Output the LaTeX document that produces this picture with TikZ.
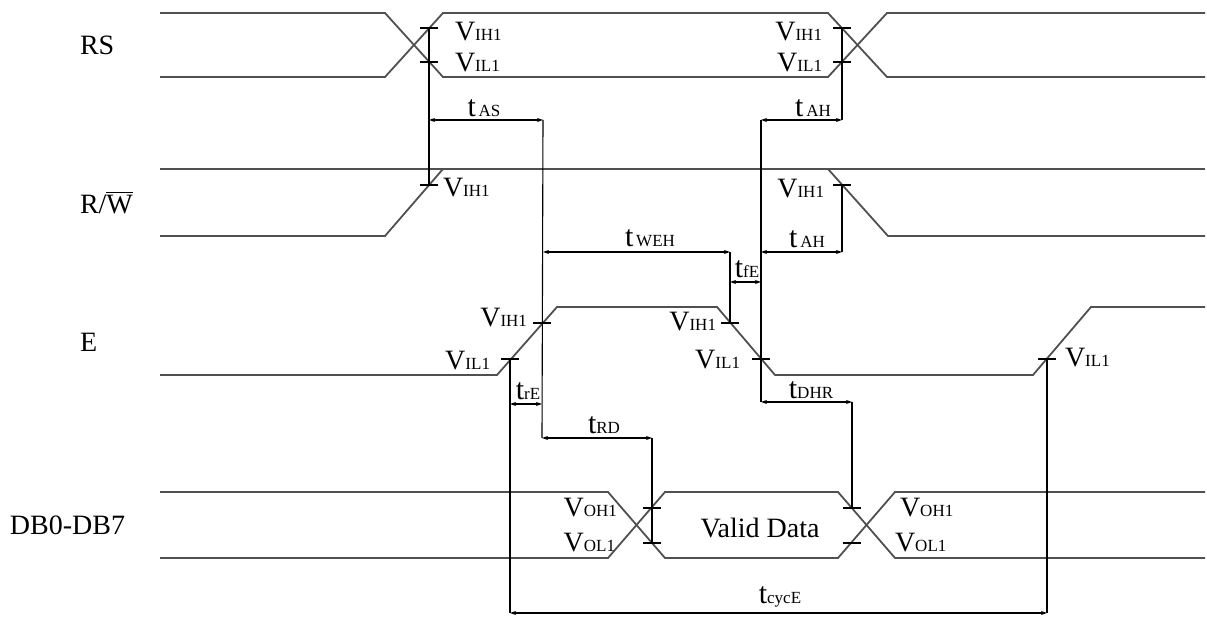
\documentclass[tikz,border=0pt]{standalone}
\usepackage{fontspec}
\setmainfont{Liberation Serif}
\usetikzlibrary{arrows.meta}
\definecolor{sigcol}{RGB}{80,80,80}
\newcommand\vlab[2]{{\fontsize{14}{14}\selectfont V}{\fontsize{8.5}{9}\selectfont #1#2}}
\newcommand\tlab[1]{{\fontsize{15}{15}\selectfont t}{\fontsize{8.5}{9}\selectfont #1}}
\begin{document}
\begin{tikzpicture}[x=0.5pt,y=-0.5pt,font=\fontsize{14}{16}\selectfont,
  sig/.style={draw=sigcol,line width=0.9pt},
  dimline/.style={draw=black,line width=0.55pt},
  dimarr/.style={dimline,{Stealth[length=3pt,width=2pt]}-{Stealth[length=3pt,width=2pt]}},
  tickmark/.style={draw=black,line width=0.55pt},
  lbl/.style={inner sep=0pt,outer sep=0pt},
  tl/.style={lbl,anchor=south}]
\useasboundingbox (0,0) rectangle (1207,619);

% ---------- signal names
\node[lbl,anchor=west] (nRS) at (80,45) {RS};
\node[lbl,anchor=west] (nRW) at (80,203) {R/$\overline{\mbox{W}}$};
\node[lbl,anchor=west] (nE) at (80,342) {E};
\node[lbl,anchor=west] (nDB) at (10,525) {DB0-DB7};

% ---------- waveforms
% RS
\draw[sig] (160,13) -- (385,13) -- (443,77) -- (828,77) -- (887,13) -- (1205,13);
\draw[sig] (160,77) -- (385,77) -- (443,13) -- (828,13) -- (887,77) -- (1205,77);
% R/W
\draw[sig] (160,169) -- (1205,169);
\draw[sig] (160,236) -- (385,236) -- (443,169);
\draw[sig] (828,169) -- (888,236) -- (1205,236);
% E
\draw[sig] (160,375) -- (497,375) -- (557,307) -- (717,307) -- (775,375) -- (1033,375) -- (1091,307) -- (1205,307);
% DB
\draw[sig] (160,492) -- (608,492) -- (665,558) -- (838,558) -- (895,492) -- (1205,492);
\draw[sig] (160,558) -- (608,558) -- (665,492) -- (838,492) -- (895,558) -- (1205,558);
\node[lbl] (valid) at (760,528) {Valid Data};

% ---------- threshold points
\coordinate (rsH1) at (429,28);  \coordinate (rsL1) at (429,62);
\coordinate (rsH2) at (842,28);  \coordinate (rsL2) at (842,62);
\coordinate (rwH1) at (429,185); \coordinate (rwH2) at (842,185);
\coordinate (eL1) at (510,359);  \coordinate (eH1) at (542,323);
\coordinate (eH2) at (730,323);  \coordinate (eL2) at (761,359);
\coordinate (eL3) at (1047,359);
\coordinate (dH1) at (652,508);  \coordinate (dL1) at (652,543);
\coordinate (dH2) at (852,508);  \coordinate (dL2) at (852,543);
\foreach \p in {rsH1,rsL1,rsH2,rsL2,rwH1,rwH2,eL1,eH1,eH2,eL2,eL3,dH1,dL1,dH2,dL2}
  \draw[tickmark] ([xshift=-4.5pt]\p) -- ([xshift=4.5pt]\p);

% ---------- dimension end points
\coordinate (asA) at (429,120);  \coordinate (asB) at (543,120);
\coordinate (ahA) at (761,120);  \coordinate (ahB) at (842,120);
\coordinate (ah2A) at (761,252); \coordinate (ah2B) at (842,252);
\coordinate (wehA) at (543,252); \coordinate (wehB) at (730,252);
\coordinate (feA) at (730,282);  \coordinate (feB) at (761,282);
\coordinate (reA) at (510,404);  \coordinate (reB) at (542,404);
\coordinate (rdA) at (542,438);  \coordinate (rdB) at (652,438);
\coordinate (dhA) at (761,402);  \coordinate (dhB) at (852,402);
\coordinate (cyA) at (510,613);  \coordinate (cyB) at (1047,613);

% ---------- extension lines
\draw[dimline] (rsH1) -- (rwH1);
\draw[dimline] (rsH2) -- (ahB);
\draw[dimline] (rwH2) -- (ah2B);
\draw[dimline] (asB) -- (rdA);
\draw[dimline] (ahA) -- (dhA);
\draw[dimline] (wehB) -- (eH2);
\draw[dimline] (rdB) -- (dL1);
\draw[dimline] (dhB) -- (dH2);
\draw[dimline] (eL1) -- (cyA);
\draw[dimline] (eL3) -- (cyB);

% ---------- dimension arrows
\draw[dimarr] (asA) -- (asB);
\draw[dimarr] (ahA) -- (ahB);
\draw[dimarr] (ah2A) -- (ah2B);
\draw[dimarr] (wehA) -- (wehB);
\draw[dimarr] (feA) -- (feB);
\draw[dimarr] (reA) -- (reB);
\draw[dimarr] (rdA) -- (rdB);
\draw[dimarr] (dhA) -- (dhB);
\draw[dimarr] (cyA) -- (cyB);

% ---------- timing labels
\node[tl] (tAS) at (484,117) {\tlab{\,AS}};
\node[tl] (tAH) at (813,117) {\tlab{\,AH}};
\node[tl] (tAH2) at (807,248) {\tlab{\,AH}};
\node[tl] (tWEH) at (650,247) {\tlab{\,WEH}};
\node[tl] (tfE) at (747,278) {\tlab{fE}};
\node[tl] (trE) at (528,400) {\tlab{rE}};
\node[tl] (tRD) at (604,434) {\tlab{RD}};
\node[tl] (tDHR) at (811,399) {\tlab{DHR}};
\node[tl] (tcyc) at (780,607) {\tlab{cycE}};

% ---------- level labels
\node[lbl,anchor=west] (lRSH1) at (455,32) {\vlab{IH}{1}};
\node[lbl,anchor=west] (lRSL1) at (455,63) {\vlab{IL}{1}};
\node[lbl,anchor=east] (lRSH2) at (822,32) {\vlab{IH}{1}};
\node[lbl,anchor=east] (lRSL2) at (822,63) {\vlab{IL}{1}};
\node[lbl,anchor=west] (lRWH1) at (443,188) {\vlab{IH}{1}};
\node[lbl,anchor=east] (lRWH2) at (824,189) {\vlab{IH}{1}};
\node[lbl,anchor=east] (lEH1) at (527,318) {\vlab{IH}{1}};
\node[lbl,anchor=east] (lEL1) at (490,361) {\vlab{IL}{1}};
\node[lbl,anchor=east] (lEH2) at (716,322) {\vlab{IH}{1}};
\node[lbl,anchor=east] (lEL2) at (740,360) {\vlab{IL}{1}};
\node[lbl,anchor=west] (lEL3) at (1065,358) {\vlab{IL}{1}};
\node[lbl,anchor=east] (lDH1) at (617,508) {\vlab{OH}{1}};
\node[lbl,anchor=east] (lDL1) at (615,543) {\vlab{OL}{1}};
\node[lbl,anchor=west] (lDH2) at (900,508) {\vlab{OH}{1}};
\node[lbl,anchor=west] (lDL2) at (895,543) {\vlab{OL}{1}};
\end{tikzpicture}
\end{document}
